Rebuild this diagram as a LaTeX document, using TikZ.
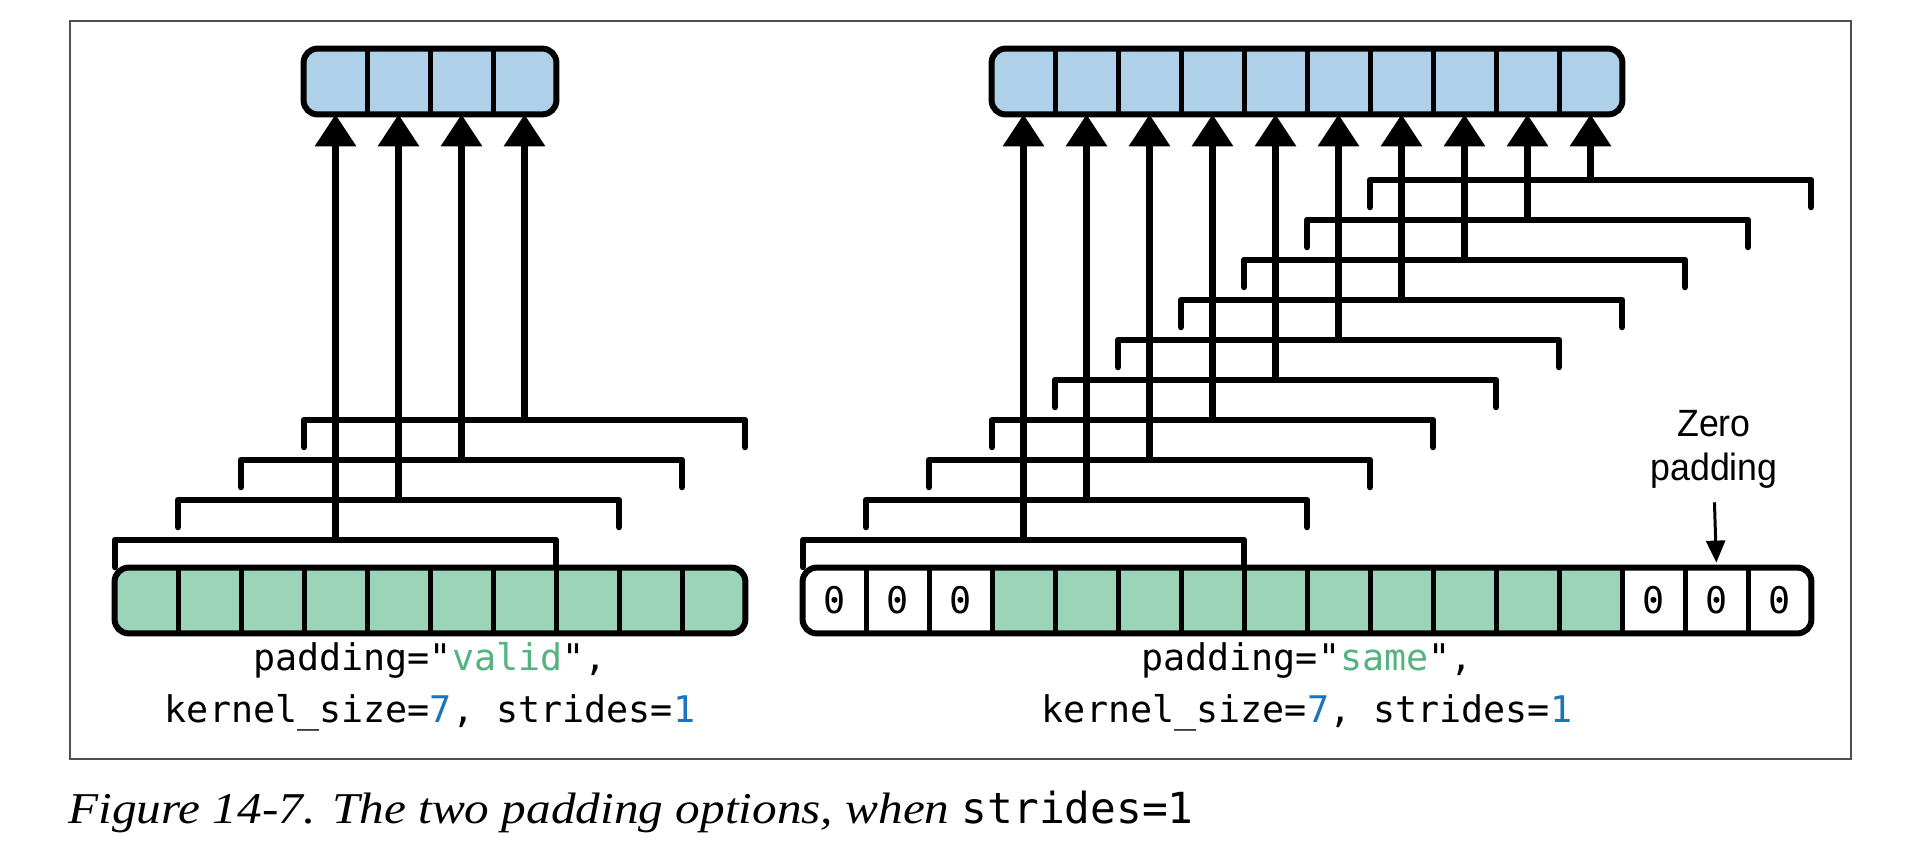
\documentclass[tikz,border=0pt]{standalone}
\usepackage{fontspec}
\usetikzlibrary{arrows.meta}
\setmonofont{DejaVu Sans Mono}
\newfontfamily\labelfont{Liberation Sans}
\newfontfamily\capfont{Liberation Serif}
\definecolor{outblue}{RGB}{174,209,233}
\definecolor{ingreen}{RGB}{155,212,185}
\definecolor{txtgreen}{RGB}{84,179,129}
\definecolor{txtblue}{RGB}{27,117,188}
\definecolor{framecol}{RGB}{80,80,80}
\tikzset{
  cellnode/.style={minimum width=31.5pt, minimum height=32.5pt, inner sep=0pt,
    font=\ttfamily\fontsize{18.35pt}{22pt}\selectfont},
  stripborder/.style={draw=black, line width=3pt, rounded corners=7pt},
  divider/.style={line width=2.2pt},
  bracketline/.style={line width=3.3pt, line cap=round, line join=round},
  uparrow/.style={line width=3.4pt, -{Triangle[length=16pt,width=20pt]}},
  codelabel/.style={anchor=base, inner sep=0pt, font=\ttfamily\fontsize{18.35pt}{22pt}\selectfont},
  zplabel/.style={anchor=base, inner sep=0pt, font=\labelfont\fontsize{19pt}{22pt}\selectfont},
  thinarrow/.style={line width=1.5pt, -{Triangle[length=11pt,width=9.5pt]}},
}
\begin{document}
\begin{tikzpicture}[x=0.5pt,y=-0.5pt]
\useasboundingbox (0,0) rectangle (1928,850);
\draw[framecol, line width=1pt] (70,21) rectangle (1851,759);

% ---------- LEFT: valid ----------
\fill[ingreen, rounded corners=7pt] (115,568) rectangle (745,633);
\foreach \i in {0,...,9} \node[cellnode] (L\i) at ({115+63*(\i+0.5)},600.5) {};
\foreach \i in {0,...,8} \draw[divider] (L\i.north east) -- (L\i.south east);
\draw[stripborder] (L0.north west) rectangle (L9.south east);

\fill[outblue, rounded corners=7pt] (304,49) rectangle (556,114);
\foreach \i in {0,...,3} \node[cellnode] (LO\i) at ({304+63*(\i+0.5)},81.5) {};
\foreach \i in {0,...,2} \draw[divider] (LO\i.north east) -- (LO\i.south east);
\draw[stripborder] (LO0.north west) rectangle (LO3.south east);

\foreach \k in {0,...,3} {
  \pgfmathsetmacro\yb{540-40*\k}
  \pgfmathsetmacro\xl{115+63*\k}
  \pgfmathsetmacro\xr{115+63*(\k+7)}
  \pgfmathsetmacro\xm{115+63*(\k+3.5)}
  \draw[bracketline] (\xl,\yb+27) -- (\xl,\yb) -- (\xr,\yb) -- (\xr,\yb+27);
  \coordinate (LB\k) at (\xm,\yb);
  \draw[uparrow] (LB\k) -- (LO\k.south);
}

\node[codelabel] (Llab1) at (430,670) {padding="\textcolor{txtgreen}{valid}",};
\node[codelabel] (Llab2) at (430,722) {kernel\_size=\textcolor{txtblue}{7}, strides=\textcolor{txtblue}{1}};

% ---------- RIGHT: same ----------
\fill[white, rounded corners=7pt] (803,568) rectangle (1811,633);
\foreach \i in {0,...,15} \node[cellnode] (R\i) at ({803+63*(\i+0.5)},600.5) {};
\fill[ingreen] (R3.north west) rectangle (R12.south east);
\foreach \i in {0,1,2,13,14,15} {
  \node[cellnode] at (R\i) {0};
  \fill ([yshift=0.3pt]R\i.center) circle (1.5pt);
}
\foreach \i in {0,...,14} \draw[divider] (R\i.north east) -- (R\i.south east);
\draw[stripborder] (R0.north west) rectangle (R15.south east);

\fill[outblue, rounded corners=7pt] (992,49) rectangle (1622,114);
\foreach \i in {0,...,9} \node[cellnode] (RO\i) at ({992+63*(\i+0.5)},81.5) {};
\foreach \i in {0,...,8} \draw[divider] (RO\i.north east) -- (RO\i.south east);
\draw[stripborder] (RO0.north west) rectangle (RO9.south east);

\foreach \k in {0,...,9} {
  \pgfmathsetmacro\yb{540-40*\k}
  \pgfmathsetmacro\xl{803+63*\k}
  \pgfmathsetmacro\xr{803+63*(\k+7)}
  \pgfmathsetmacro\xm{803+63*(\k+3.5)}
  \draw[bracketline] (\xl,\yb+27) -- (\xl,\yb) -- (\xr,\yb) -- (\xr,\yb+27);
  \coordinate (RB\k) at (\xm,\yb);
  \draw[uparrow] (RB\k) -- (RO\k.south);
}

\node[codelabel] (Rlab1) at (1307,670) {padding="\textcolor{txtgreen}{same}",};
\node[codelabel] (Rlab2) at (1307,722) {kernel\_size=\textcolor{txtblue}{7}, strides=\textcolor{txtblue}{1}};

\node[zplabel] (zero) at (1714,436) {\scalebox{0.94}[1]{Zero}};
\node[zplabel] (zpad) at (1714,480) {\scalebox{0.94}[1]{padding}};
\draw[thinarrow, shorten <=7pt, shorten >=2.5pt] (zpad.south) -- (R14.north);

% ---------- caption ----------
\node[anchor=base west, inner sep=0pt] (cap) at (68,823)
  {\scalebox{1.12}[1]{\capfont\itshape\fontsize{22pt}{26pt}\selectfont Figure 14-7. The two padding options, when }\ttfamily\fontsize{21.4pt}{26pt}\selectfont strides=1};
\end{tikzpicture}
\end{document}
